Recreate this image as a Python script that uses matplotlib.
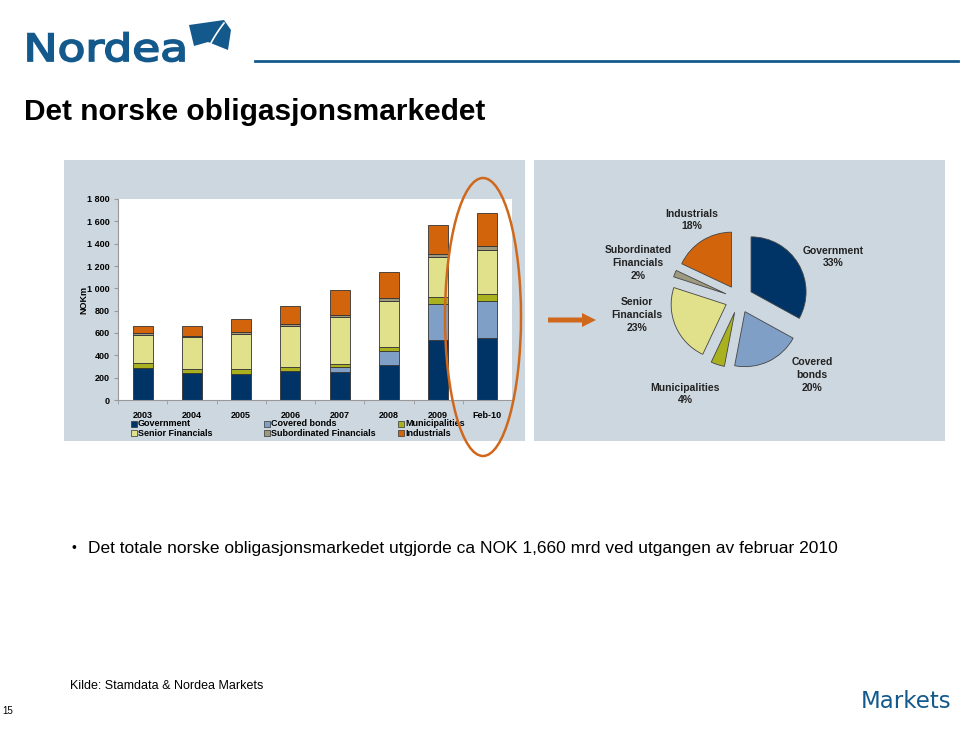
import matplotlib
matplotlib.use("Agg")
import matplotlib.pyplot as plt
import matplotlib.patches as mpatches
from matplotlib.textpath import TextPath
from matplotlib.font_manager import FontProperties
from matplotlib.transforms import Affine2D
import numpy as np

plt.rcParams['font.family'] = ['Liberation Sans', 'DejaVu Sans']

# ─── Data ───────────────────────────────────────────────────────────────────
years = ["2003", "2004", "2005", "2006", "2007", "2008", "2009", "Feb-10"]
series = ["Government", "Covered bonds", "Municipalities",
          "Senior Financials", "Subordinated Financials", "Industrials"]

government = [285, 240, 233, 257, 254, 316, 540, 558]
covered = [0, 0, 0, 0, 39, 120, 320, 329]
municipalities = [50, 42, 42, 39, 32, 42, 59, 62]
senior = [250, 280, 319, 364, 418, 412, 362, 394]
subordinated = [15, 15, 12, 24, 21, 26, 29, 36]
industrials = [65, 90, 122, 158, 218, 230, 257, 293]

pie_labels = ["Government", "Covered\nbonds", "Municipalities",
              "Senior\nFinancials", "Subordinated\nFinancials", "Industrials"]
pie_share = [33, 20, 4, 23, 2, 18]

colors = ["#003366", "#7f9fc6", "#a9b21e", "#e1e18c", "#9e9a80", "#d2650c"]
ORANGE = "#d0681c"
PANEL = "#cdd7df"
BLUE = "#14598c"

W, H = 960, 740
fig = plt.figure(figsize=(W / 100, H / 100), dpi=100)


def px_rect(left, top, width, height):
    return [left / W, 1 - (top + height) / H, width / W, height / H]


# page layer (pixel coordinates, y down)
page = fig.add_axes([0, 0, 1, 1], zorder=-5)
page.set_xlim(0, W)
page.set_ylim(H, 0)
page.axis("off")

page.add_patch(mpatches.Rectangle((64, 160), 461, 281, color=PANEL, lw=0))
page.add_patch(mpatches.Rectangle((534, 160), 411, 281, color=PANEL, lw=0))

# logo: wordmark stretched into its box
tp = TextPath((0, 0), "Nordea", size=1, prop=FontProperties(family="DejaVu Sans"))
ext = tp.get_extents()
logo_tf = (Affine2D().translate(-ext.x0, -ext.y0)
           .scale(156 / ext.width, -29 / ext.height).translate(28, 61.5))
page.add_patch(mpatches.PathPatch(logo_tf.transform_path(tp), facecolor=BLUE,
                                  edgecolor=BLUE, lw=1.3))
sail = mpatches.Polygon([(189, 25), (224, 20), (231, 30), (228, 50),
                         (208, 42), (194, 46)], closed=True, color=BLUE, lw=0)
page.add_patch(sail)
t = np.linspace(0, 1, 30)
page.plot(224 - 16 * t - 4 * t * (1 - t), 23 + 26 * t, color="white", lw=1.2)
page.plot([255, 958], [61, 61], color=BLUE, lw=2)

page.text(24, 112, "Det norske obligasjonsmarkedet", fontsize=21.5,
          fontweight="bold", va="center", ha="left")

page.text(72, 548, "\u2022", fontsize=10, va="center", ha="left")
page.text(88, 548, "Det totale norske obligasjonsmarkedet utgjorde ca NOK 1,660 mrd "
          "ved utgangen av februar 2010", fontsize=12.5, va="center", ha="left")
page.text(70, 686, "Kilde: Stamdata & Nordea Markets", fontsize=9,
          va="center", ha="left")
page.text(2, 711, "15", fontsize=7, va="center", ha="left")
page.text(861, 702, "Markets", fontsize=16.5, color=BLUE, va="center", ha="left",
          family="DejaVu Sans")

# ─── Stacked bars ───────────────────────────────────────────────────────────
ax = fig.add_axes(px_rect(118, 199, 394, 201))
x = np.arange(len(years))
values = [government, covered, municipalities, senior, subordinated, industrials]
bottom = np.zeros(len(years))
for name, vals, c in zip(series, values, colors):
    ax.bar(x, vals, width=0.41, bottom=bottom, color=c, edgecolor="#333333",
           linewidth=0.6, label=name)
    bottom += np.array(vals)

ax.set_xlim(-0.5, 7.5)
ax.set_ylim(0, 1800)
ax.set_yticks(range(0, 1801, 200))
ax.set_yticklabels([f"{v:,}".replace(",", " ") for v in range(0, 1801, 200)],
                   fontsize=6.5, fontweight="bold")
ax.set_xticks(x)
ax.set_xticklabels(years, fontsize=6.5, fontweight="bold")
ax.set_xticks(np.arange(-0.5, 8, 1), minor=True)
ax.tick_params(axis="x", which="major", length=0, pad=8)
ax.tick_params(axis="x", which="minor", length=3, color="#999999")
ax.tick_params(axis="y", length=3, color="#999999", pad=3)
for s in ["top", "right"]:
    ax.spines[s].set_visible(False)
for s in ["left", "bottom"]:
    ax.spines[s].set_color("#999999")
    ax.spines[s].set_linewidth(0.8)
ax.set_ylabel("NOKm", fontsize=6.5, fontweight="bold", labelpad=-1)

# legend, laid out row-wise as in the original
legend_cols = [131, 264, 398]
legend_rows = [424, 433]
for i, (name, c) in enumerate(zip(series, colors)):
    lx = legend_cols[i % 3]
    ly = legend_rows[i // 3]
    page.add_patch(mpatches.Rectangle((lx, ly - 3), 6, 6, facecolor=c,
                                      edgecolor="#333333", lw=0.5))
    page.text(lx + 7, ly, name, fontsize=6.5, fontweight="bold",
              va="center", ha="left")

# ─── Pie ────────────────────────────────────────────────────────────────────
pax = fig.add_axes(px_rect(639, 199, 200, 200))
wedges, _ = pax.pie(pie_share, colors=colors, startangle=90, counterclock=False,
                    radius=0.55, explode=[0.14] * len(pie_share),
                    wedgeprops=dict(edgecolor="#444444", linewidth=0.6))
pax.set_xlim(-1, 1)
pax.set_ylim(-1, 1)
pax.set_aspect("equal")

# label offsets from the pie centre (axes data units)
label_xy = [(0.94, 0.42), (0.73, -0.76), (-0.54, -0.95),
            (-1.02, -0.16), (-1.01, 0.36), (-0.47, 0.79)]
for lab, share, (lx, ly) in zip(pie_labels, pie_share, label_xy):
    pax.text(lx, ly, f"{lab}\n{share}%", fontsize=7.5, fontweight="bold",
             color="#222222", ha="center", va="center", linespacing=1.35)

# ─── Overlay: highlight ellipse and arrow ───────────────────────────────────
over = fig.add_axes([0, 0, 1, 1], zorder=10)
over.set_xlim(0, W)
over.set_ylim(H, 0)
over.axis("off")
over.patch.set_alpha(0)
over.add_patch(mpatches.Ellipse((483, 317), 76, 278, fill=False,
                                edgecolor=ORANGE, lw=1.8))
over.add_patch(mpatches.FancyArrow(548, 320, 34, 0, width=5, head_width=14,
                                   head_length=14, color=ORANGE, lw=0))

fig.savefig("out.png", dpi=100)
